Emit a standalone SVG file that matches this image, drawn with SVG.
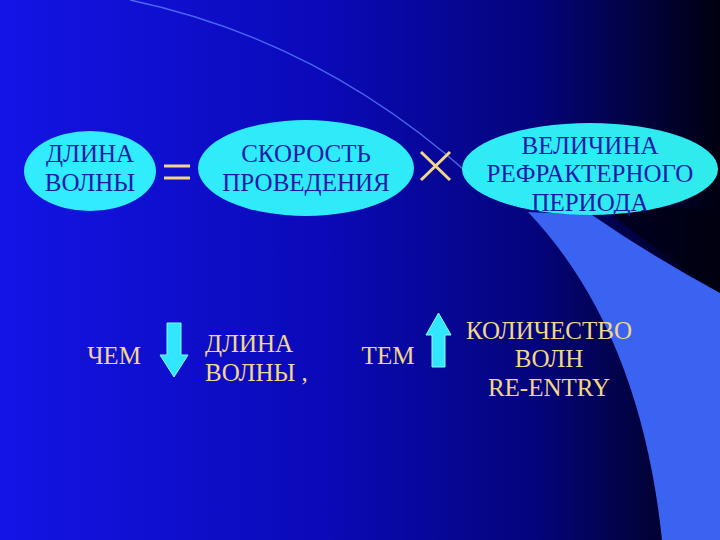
<svg xmlns="http://www.w3.org/2000/svg" width="720" height="540" viewBox="0 0 720 540">
<defs>
<linearGradient id="bg" x1="0" y1="0" x2="1" y2="0">
<stop offset="0" stop-color="#1414e6"/><stop offset="0.45" stop-color="#0a0ab8"/><stop offset="0.75" stop-color="#04047a"/><stop offset="1" stop-color="#000010"/>
</linearGradient>
<style>
.ov{fill:#33ffff;fill-opacity:0.92}
.bt{font-family:"Liberation Serif",serif;font-size:25px;fill:#1a1aa8;text-anchor:middle}
.yt{font-family:"Liberation Serif",serif;font-size:25px;fill:#f2d78a;text-anchor:middle}
.arr{fill:#33e6ff;stroke:#80ffff;stroke-width:1}
.op{stroke:#f2d78a;stroke-width:3;fill:none}
</style>
</defs>
<rect width="720" height="540" fill="url(#bg)"/>
<path d="M600,205 Q660,255 720,292 L720,210 Z" fill="#000010" opacity="0.7"/>
<path d="M130,0 Q320,40 470,175" stroke="#5a7cff" stroke-width="1.5" fill="none" opacity="0.8"/>
<path d="M528,212 Q640,330 662,540 L720,540 L720,293 Q650,255 592,215 Z" fill="#3b63f2"/>
<g id="n1"><ellipse class="ov" cx="90" cy="171" rx="66" ry="40"/><text class="bt" x="90" y="162">ДЛИНА</text><text class="bt" x="90" y="191">ВОЛНЫ</text></g>
<g id="eq"><path class="op" d="M164,166H190M164,178H190"/></g>
<g id="n2"><ellipse class="ov" cx="306" cy="168" rx="108" ry="48"/><text class="bt" x="306" y="162">СКОРОСТЬ</text><text class="bt" x="306" y="191">ПРОВЕДЕНИЯ</text></g>
<g id="mul"><path class="op" d="M421,152L450,180M450,152L421,180"/></g>
<g id="n3"><ellipse class="ov" cx="590" cy="169" rx="128" ry="46"/><text class="bt" x="590" y="154">ВЕЛИЧИНА</text><text class="bt" x="590" y="182">РЕФРАКТЕРНОГО</text><text class="bt" x="590" y="211">ПЕРИОДА</text></g>
<g id="connectors">
<path class="arr" d="M167,323H181V355H188L174,377L160,355H167Z"/>
<path class="arr" d="M432,367V335H426L438.5,313L451,335H445V367Z"/>
</g>
<g id="t1"><text class="yt" x="114" y="364">ЧЕМ</text></g>
<g id="t2"><text class="yt" x="205" y="352" style="text-anchor:start">ДЛИНА</text><text class="yt" x="205" y="381" style="text-anchor:start">ВОЛНЫ ,</text></g>
<g id="t3"><text class="yt" x="388" y="364">ТЕМ</text></g>
<g id="t4"><text class="yt" x="549" y="339">КОЛИЧЕСТВО</text><text class="yt" x="549" y="367">ВОЛН</text><text class="yt" x="549" y="396">RE-ENTRY</text></g>
</svg>
